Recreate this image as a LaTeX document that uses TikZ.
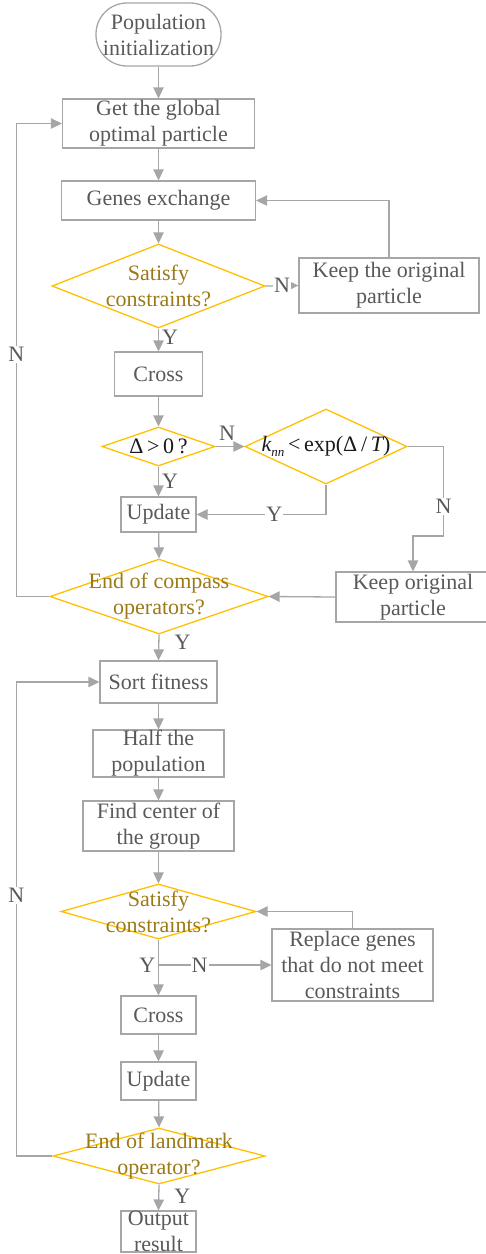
\documentclass[tikz,border=0pt]{standalone}
\usepackage{fontspec}
\setmainfont{Liberation Serif}
\usetikzlibrary{shapes.geometric,arrows.meta}
\definecolor{lgray}{RGB}{166,166,166}
\definecolor{tgray}{RGB}{89,89,89}
\definecolor{gold}{RGB}{255,192,0}
\definecolor{dgold}{RGB}{155,122,22}
\definecolor{mtext}{RGB}{25,25,25}
\begin{document}
\begin{tikzpicture}[x=1pt,y=-1pt,
  every node/.style={font=\fontsize{22}{26}\selectfont},
  box/.style={draw=lgray, line width=1.3pt, text=tgray, align=center, inner sep=0pt},
  dia/.style={diamond, draw=gold, line width=1.3pt, inner sep=0pt},
  dtext/.style={text=dgold, align=center, inner sep=0pt},
  mtextst/.style={text=mtext, align=center, inner sep=0pt},
  arr/.style={draw=lgray, line width=1.3pt, -{Triangle[length=11pt,width=10.5pt]}},
  ln/.style={draw=lgray, line width=1.3pt},
  lbl/.style={text=tgray, inner sep=1pt},
  lblw/.style={lbl, fill=white}]
\useasboundingbox (0,0) rectangle (486,1254);

% nodes
\node[box, rounded corners=31pt, minimum width=125pt, minimum height=63pt] (init) at (158.5,34.5) {Population\\initialization};
\node[box, minimum width=192pt, minimum height=49pt] (gop) at (158.5,123.5) {Get the global\\optimal particle};
\node[box, minimum width=194pt, minimum height=39pt] (genes) at (158.5,200.5) {Genes exchange};
\node[dia, minimum width=213pt, minimum height=84pt] (sat1) at (158.5,286) {};
\node[dtext] (sat1t) at (sat1) {Satisfy\\constraints?};
\node[box, minimum width=180pt, minimum height=55pt] (keep1) at (389,285.5) {Keep the original\\particle};
\node[box, minimum width=88pt, minimum height=44pt] (cross1) at (158.5,374) {Cross};
\node[dia, minimum width=113pt, minimum height=39pt] (delta) at (158.5,446.5) {};
\node[mtextst] (deltat) at (delta) {Δ\,>\,0\,?};
\node[dia, minimum width=162pt, minimum height=75pt] (kd) at (326,446.5) {};
\node[mtextst] (kdt) at (kd) {{\itshape k}\raisebox{-5pt}{\fontsize{13}{13}\selectfont\itshape nn}\,<\,exp(Δ\,/\,{\itshape T})};
\node[box, minimum width=75pt, minimum height=35pt] (upd1) at (158.5,514.5) {Update};
\node[dia, minimum width=218pt, minimum height=75pt] (endc) at (159,596.5) {};
\node[dtext] (endct) at (endc) {End of compass\\operators?};
\node[box, minimum width=154pt, minimum height=50pt] (keep2) at (413,597) {Keep original\\particle};
\node[box, minimum width=117pt, minimum height=42pt] (sort) at (158.5,682) {Sort fitness};
\node[box, minimum width=131pt, minimum height=47pt] (half) at (158.5,753.5) {Half the\\population};
\node[box, minimum width=151pt, minimum height=50pt] (find) at (158.5,826) {Find center of\\the group};
\node[dia, minimum width=195pt, minimum height=55pt] (sat2) at (158.5,911.5) {};
\node[dtext] (sat2t) at (sat2) {Satisfy\\constraints?};
\node[box, minimum width=161pt, minimum height=72pt] (repl) at (352.5,965) {Replace genes\\that do not meet\\constraints};
\node[box, minimum width=75pt, minimum height=38pt] (cross2) at (158.5,1015) {Cross};
\node[box, minimum width=75pt, minimum height=38pt] (upd2) at (158.5,1081) {Update};
\node[dia, minimum width=212pt, minimum height=56pt] (endl) at (159,1156) {};
\node[dtext] (endlt) at (endl) {End of landmark\\operator?};
\node[box, minimum width=75pt, minimum height=39pt] (out) at (158.5,1231.5) {Output\\result};

% connectors
\draw[arr] (init) -- (gop);
\draw[arr] (gop) -- (genes);
\draw[arr] (genes) -- (sat1.north);
\draw[arr] (sat1.east) -- node[lblw]{N} (keep1.west);
\draw[arr] (keep1.north) |- (genes.east);
\draw[arr] (sat1.south) -- node[lbl, right, pos=0.4, xshift=2pt]{Y} (cross1.north);
\draw[arr] (cross1) -- (delta.north);
\draw[arr] (delta.east) -- node[lbl, above, pos=0.4, yshift=4pt]{N} (kd.west);
\draw[arr] (delta.south) -- node[lbl, right, pos=0.5, xshift=2pt]{Y} (upd1.north);
\draw[arr] (kd.south) |- node[lblw, pos=0.70]{Y} (upd1.east);
\draw[arr] (kd.east) -- ++(36,0) -- node[lblw, pos=0.67]{N} ++(0,89.5) -| (keep2.north);
\draw[arr] (upd1) -- (endc.north);
\draw[arr] (keep2.west) -- (endc.east);
\draw[arr] (endc.west) -- ++(-33,0) |- node[lblw, pos=0.256]{N} (gop.west);
\draw[arr] (endc.south) -- node[lbl, right, pos=0.3, xshift=14pt]{Y} (sort.north);
\draw[arr] (sort) -- (half);
\draw[arr] (half) -- (find);
\draw[arr] (find) -- (sat2.north);
\draw[arr] (sat2.south) -- (cross2.north);
\coordinate (br) at (sat2.south |- repl.west);
\draw[arr] (br) -- node[lblw, pos=0.365]{N} (repl.west);
\node[lbl, left, xshift=-2pt] (ylab2) at (br) {Y};
\draw[arr] (repl.north) |- (sat2.east);
\draw[arr] (cross2) -- (upd2);
\draw[arr] (upd2) -- (endl.north);
\draw[arr] (endl.west) -- ++(-36,0) |- node[lblw, pos=0.275]{N} (sort.west);
\draw[arr] (endl.south) -- node[lbl, right, pos=0.45, xshift=14pt]{Y} (out.north);
\end{tikzpicture}
\end{document}
